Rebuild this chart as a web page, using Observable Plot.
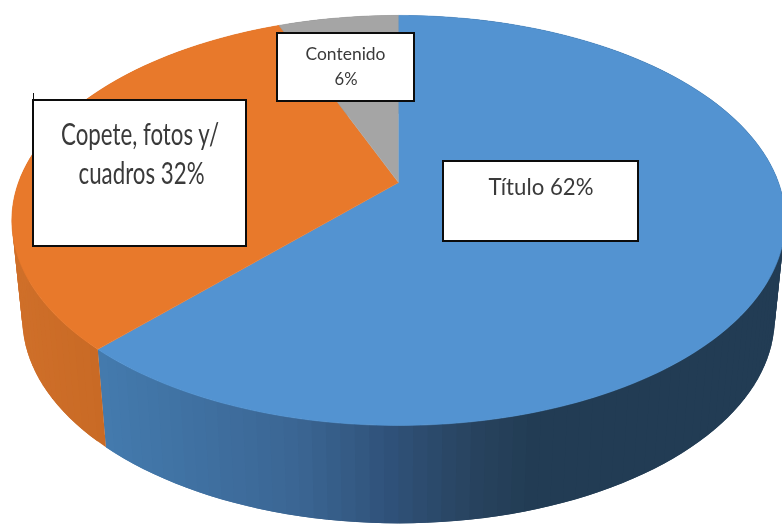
<!DOCTYPE html>
<html>
<head>
<meta charset="utf-8">
<script src="https://cdn.jsdelivr.net/npm/d3@7"></script>
<script src="https://cdn.jsdelivr.net/npm/@observablehq/plot@0.6"></script>
<style>
html,body{margin:0;padding:0;background:#fff}
svg{display:block;filter:blur(0.35px)}
svg text{filter:blur(0.35px)}
</style>
</head>
<body>
<div id="chart"></div>
<script>
// Data: slices clockwise from 12 o'clock
const categories = ["Título", "Copete, fotos y/ cuadros", "Contenido"];
const shares = [62, 32, 6];

// Styles
const topColors = ["#5393D1", "#E8792B", "#A5A5A5"];
const wallRamps = [
  [[100,"#447BAE"],[300,"#3B6694"],[400,"#2F5178"],[480,"#28435F"],[540,"#223C54"],[800,"#223C54"]],
  [[0,"#D0702A"],[100,"#C96A25"]],
  [[0,"#7C7C7C"],[800,"#7C7C7C"]]
];

// Perspective disc geometry, in chart units
const disc = {cx: 398, cy: 182, rx: 380, ry: 198, k: 0.185, depth: 98, shrink: 0.973};
const project = (share) => {
  const a = share / 100 * 2 * Math.PI;
  const w = 1 + disc.k * Math.cos(a);
  return {x: disc.cx + disc.rx * Math.sin(a) / w, y: disc.cy - disc.ry * Math.cos(a) / w};
};
const lower = (p) => ({x: disc.cx + (p.x - disc.cx) * disc.shrink, y: p.y + disc.depth});

// Label boxes
const boxX1 = [443, 33, 277], boxX2 = [638, 246, 414];
const boxY1 = [161, 100, 33], boxY2 = [241, 246, 101];
const labelLines = ["Título 62%", "Copete, fotos y/", "cuadros 32%", "Contenido", "6%"];
const labelX = [540.5, 139.5, 141, 345, 345.5];
const labelY = [187, 135, 174, 54, 79];
const labelSizes = [23, 30, 30, 17, 17];
const labelWidths = [105, 158, 126, 80, 23];

// Build slice outlines and wall strips from the shares
const starts = d3.cumsum([0, ...shares]);
const faces = [], strips = [];
shares.forEach((s, i) => {
  const n = Math.max(2, Math.round(s * 4));
  const pts = d3.range(n + 1).map(j => starts[i] + s * j / n);
  faces.push({i, x: disc.cx, y: disc.cy});
  pts.forEach(p => faces.push({i, ...project(p)}));
  const ramp = d3.scaleLinear().domain(wallRamps[i].map(d => d[0])).range(wallRamps[i].map(d => d[1])).clamp(true);
  for (let j = 0; j < n; j += 2) {
    const a = project(pts[j]), b = project(pts[Math.min(n, j + 4)]);
    const c = ramp(a.x);
    const id = i + "-" + j;
    const la = lower(a), lb = lower(b);
    [a, b, lb, la].forEach(p => strips.push({id, c, x: p.x, y: p.y}));
  }
});

const boxes = categories.map((c, i) => ({x1: boxX1[i], x2: boxX2[i], y1: boxY1[i], y2: boxY2[i]}));
const labels = labelLines.map((t, i) => ({t, x: labelX[i], y: labelY[i], s: labelSizes[i]}));

const chart = Plot.plot({
  width: 782, height: 525,
  margin: 0,
  x: {domain: [0, 782], range: [0, 782], axis: null},
  y: {domain: [0, 525], range: [0, 525], axis: null},
  marks: [
    Plot.line(strips, {x: "x", y: "y", z: "id", fill: {value: "c", scale: null}, stroke: "none"}),
    ...shares.map((s, i) => Plot.line(faces.filter(d => d.i === i), {x: "x", y: "y",
      fill: topColors[i], stroke: topColors[i], strokeWidth: 0.6})),
    Plot.ruleX([33], {y1: 93, y2: 100, stroke: "#111", strokeWidth: 1}),
    Plot.rect(boxes, {x1: "x1", x2: "x2", y1: "y1", y2: "y2", fill: "#fff", stroke: "#0c0c0c", strokeWidth: 2}),
    ...labels.map(l => Plot.text([l], {x: "x", y: "y", text: "t", fontSize: l.s,
      fontFamily: "Lato, 'Open Sans', sans-serif", fill: "#3a3a3a", textAnchor: "middle", lineAnchor: "middle"}))
  ]
});
// Condense the labels to the reference's narrow lettering
chart.querySelectorAll("text").forEach(t => {
  const i = labelLines.indexOf(t.textContent.trim());
  if (i >= 0) {
    t.setAttribute("textLength", labelWidths[i]);
    t.setAttribute("lengthAdjust", "spacingAndGlyphs");
  }
});
document.getElementById("chart").append(chart);
</script>
</body>
</html>
